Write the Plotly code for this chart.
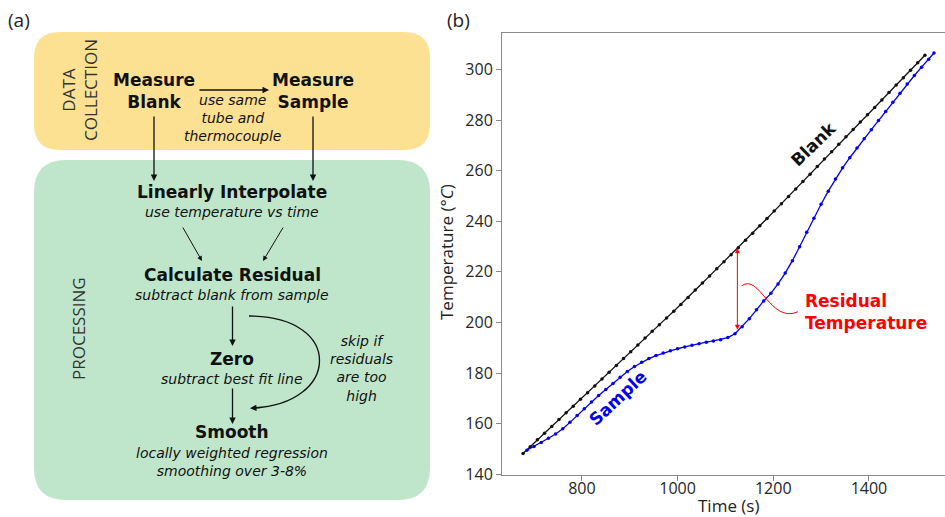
import plotly.graph_objects as go

W, H = 945, 517

# ---------------- data ----------------
blank_time = [677, 692, 707, 722, 737, 752, 767, 782, 797, 812, 827, 842, 857, 872, 887,
              902, 917, 932, 947, 962, 977, 992, 1007, 1022, 1037, 1052, 1067, 1082, 1097,
              1112, 1127, 1142, 1157, 1172, 1187, 1202, 1217, 1232, 1247, 1262, 1277, 1292,
              1307, 1322, 1337, 1352, 1367, 1382, 1397, 1412, 1427, 1442, 1457, 1472, 1487,
              1502, 1517]
blank_temp = [148.2, 150.9, 153.6, 156.2, 158.9, 161.6, 164.3, 166.9, 169.6, 172.2, 174.9,
              177.6, 180.3, 183.0, 185.7, 188.4, 191.1, 193.8, 196.5, 199.1, 201.8, 204.4,
              207.1, 209.9, 212.8, 215.6, 218.4, 221.2, 224.0, 226.8, 229.5, 232.5, 235.3,
              238.2, 241.1, 244.0, 246.9, 249.8, 252.7, 255.7, 258.6, 261.6, 264.6, 267.5,
              270.4, 273.4, 276.3, 279.2, 282.1, 285.0, 287.9, 290.9, 293.8, 296.7, 299.7,
              302.6, 305.6]

sample_time = [685, 700, 715, 730, 745, 760, 775, 790, 805, 820, 835, 850, 865, 880, 895,
               910, 925, 940, 955, 970, 985, 1000, 1015, 1030, 1045, 1060, 1075, 1090, 1105,
               1120, 1135, 1150, 1165, 1180, 1195, 1210, 1225, 1240, 1255, 1270, 1285, 1300,
               1315, 1330, 1345, 1360, 1375, 1390, 1405, 1420, 1435, 1450, 1465, 1480, 1495,
               1510, 1525, 1536]
sample_temp = [149.5, 151.0, 152.5, 154.2, 155.9, 158.0, 160.5, 163.2, 165.9, 168.6, 171.1,
               173.5, 175.9, 178.3, 180.6, 182.6, 184.3, 185.7, 186.9, 187.9, 188.8, 189.6,
               190.3, 191.0, 191.6, 192.2, 192.7, 193.2, 194.0, 195.5, 198.3, 201.5, 205.0,
               208.5, 211.5, 215.2, 219.5, 224.4, 229.9, 235.6, 241.2, 246.7, 251.9, 256.7,
               261.1, 265.1, 268.9, 272.6, 276.2, 279.8, 283.4, 287.0, 290.6, 294.2, 297.6,
               300.9, 304.0, 306.5]

x_ticks = [800, 1000, 1200, 1400]
y_ticks = [140, 160, 180, 200, 220, 240, 260, 280, 300]

resid_time = 1125
resid_top = 229.3
resid_bottom = 196.5

# ---------------- helpers ----------------
def fx(x):
    return x / W


def fy(y):
    return 1 - y / H


def rrect(x0, y0, x1, y1, r):
    pts = [
        ("M", [(x0 + r, y0)]), ("L", [(x1 - r, y0)]), ("Q", [(x1, y0), (x1, y0 + r)]),
        ("L", [(x1, y1 - r)]), ("Q", [(x1, y1), (x1 - r, y1)]), ("L", [(x0 + r, y1)]),
        ("Q", [(x0, y1), (x0, y1 - r)]), ("L", [(x0, y0 + r)]), ("Q", [(x0, y0), (x0 + r, y0)]),
    ]
    s = ""
    for cmd, ps in pts:
        s += cmd + " " + " ".join(f"{fx(a):.5f},{fy(b):.5f}" for a, b in ps) + " "
    return s + "Z"


FLOW_FONT = "DejaVu Sans"
LABEL_FONT = "Open Sans"

annotations = []
shapes = []


def text(x, y, t, size=17, family=FLOW_FONT, color="#111111", angle=0, xanchor="center", align="center"):
    annotations.append(dict(
        x=fx(x), y=fy(y), xref="paper", yref="paper", text=t, showarrow=False,
        font=dict(family=family, size=size, color=color), textangle=angle,
        xanchor=xanchor, yanchor="middle", align=align))


def arrow(x0, y0, x1, y1, width=1.3, size=1.0):
    annotations.append(dict(
        x=fx(x1), y=fy(y1), xref="paper", yref="paper", ax=x0 - x1, ay=y0 - y1,
        axref="pixel", ayref="pixel", text="", showarrow=True, arrowhead=2,
        arrowsize=size, arrowwidth=width, arrowcolor="#111111", standoff=0))


# ---------------- panel (a): flowchart ----------------
shapes.append(dict(type="path", xref="paper", yref="paper", path=rrect(34, 32, 430, 150, 26),
                   fillcolor="#FDE193", line=dict(width=0), layer="below"))
shapes.append(dict(type="path", xref="paper", yref="paper", path=rrect(34, 160, 430, 500, 32),
                   fillcolor="#BFE6CB", line=dict(width=0), layer="below"))

text(19, 20, "(a)", size=19, family=LABEL_FONT, color="#222222")
text(458, 20, "(b)", size=19, family=LABEL_FONT, color="#222222")

text(79, 90, "DATA<br>COLLECTION", size=17, family=LABEL_FONT, color="#333333", angle=-90)
text(78, 329, "PROCESSING", size=17, family=LABEL_FONT, color="#333333", angle=-90)

text(154, 91, "<b>Measure<br>Blank</b>")
text(313, 91, "<b>Measure<br>Sample</b>")
arrow(198, 90, 269, 90)
text(232, 118, "<i>use same<br>tube and<br>thermocouple</i>", size=14)

arrow(154, 115, 154, 181)
arrow(313, 115, 313, 181)

text(232, 192, "<b>Linearly Interpolate</b>")
text(232, 212, "<i>use temperature vs time</i>", size=14)
arrow(182, 226, 202, 261, width=1.0)
arrow(284, 226, 263, 261, width=1.0)

text(232, 275, "<b>Calculate Residual</b>")
text(232, 295, "<i>subtract blank from sample</i>", size=14)
arrow(232.5, 305, 232.5, 346)

text(232, 359, "<b>Zero</b>")
text(232, 379, "<i>subtract best fit line</i>", size=14)
arrow(232.5, 387, 232.5, 424)

text(232, 432, "<b>Smooth</b>")
text(232, 461.5, "<i>locally weighted regression<br>smoothing over 3-8%</i>", size=14)

text(361, 368, "<i>skip if<br>residuals<br>are too<br>high</i>", size=14)

# curved skip arrow
cp = [(249, 316), (345, 316), (340, 405), (252, 408)]
shapes.append(dict(type="path", xref="paper", yref="paper",
                   path=f"M {fx(cp[0][0])},{fy(cp[0][1])} C {fx(cp[1][0])},{fy(cp[1][1])} "
                        f"{fx(cp[2][0])},{fy(cp[2][1])} {fx(cp[3][0])},{fy(cp[3][1])}",
                   line=dict(color="#111111", width=1.3)))
arrow(262, 407.6, 250, 408.2)

# ---------------- panel (b): chart ----------------
fig = go.Figure()
fig.add_trace(go.Scatter(x=blank_time, y=blank_temp, mode="lines+markers",
                         line=dict(color="#111111", width=1.3),
                         marker=dict(color="#111111", size=3.5), showlegend=False,
                         xaxis="x", yaxis="y"))
fig.add_trace(go.Scatter(x=sample_time, y=sample_temp, mode="lines+markers",
                         line=dict(color="#0000EE", width=1.3),
                         marker=dict(color="#0000EE", size=3.5), showlegend=False,
                         xaxis="x", yaxis="y"))

# residual double arrow
annotations.append(dict(x=resid_time, y=resid_top, ax=resid_time, ay=resid_bottom,
                        xref="x", yref="y", axref="x", ayref="y", text="", showarrow=True,
                        arrowhead=2, startarrowhead=2, arrowside="end+start", arrowsize=1,
                        startarrowsize=1, arrowwidth=1, arrowcolor="#FF0000",
                        standoff=0, startstandoff=0))
# S-curve connector (data coords)
sc = [(1134, 214.5), (1172, 219.5), (1193, 199.4), (1251.6, 204.2)]
shapes.append(dict(type="path", xref="x", yref="y",
                   path=f"M {sc[0][0]},{sc[0][1]} C {sc[1][0]},{sc[1][1]} {sc[2][0]},{sc[2][1]} {sc[3][0]},{sc[3][1]}",
                   line=dict(color="#FF0000", width=1)))

annotations.append(dict(x=1261.6, y=204.1, xref="x", yref="y", xanchor="left", yanchor="middle",
                        align="left", text="<b>Residual<br>Temperature</b>", showarrow=False,
                        font=dict(family=FLOW_FONT, size=17, color="#FF0000")))
annotations.append(dict(x=1283.6, y=270.6, xref="x", yref="y", text="<b>Blank</b>",
                        showarrow=False, textangle=-44,
                        font=dict(family=FLOW_FONT, size=17, color="#111111")))
annotations.append(dict(x=874.8, y=170.3, xref="x", yref="y", text="<b>Sample</b>",
                        showarrow=False, textangle=-43,
                        font=dict(family=FLOW_FONT, size=17, color="#0000EE")))

# axis titles
text(728, 505, "Time (s)", size=17, family=LABEL_FONT, color="#222222")
text(446, 252, "Temperature (°<i>C</i>)", size=17, family=LABEL_FONT, color="#222222", angle=-90)

fig.update_layout(
    width=W, height=H,
    margin=dict(l=0, r=0, t=0, b=0),
    paper_bgcolor="white", plot_bgcolor="white",
    showlegend=False,
    xaxis=dict(domain=[502 / W, 1.0], range=[633, 1559], anchor="y",
               tickvals=x_ticks, ticktext=[str(v) for v in x_ticks],
               showgrid=False, zeroline=False, showline=True, linecolor="#8a8a8a",
               linewidth=1, mirror=True, ticks="outside", ticklen=5, tickcolor="#8a8a8a",
               ticklabelstandoff=-6,
               tickfont=dict(family=LABEL_FONT, size=16, color="#262626"), automargin=False),
    yaxis=dict(domain=[(H - 475) / H, (H - 33) / H], range=[139.7, 314.4], anchor="x",
               tickvals=y_ticks, ticktext=[str(v) for v in y_ticks],
               showgrid=False, zeroline=False, showline=True, linecolor="#8a8a8a",
               linewidth=1, mirror=False, ticks="outside", ticklen=5, tickcolor="#8a8a8a",
               tickfont=dict(family=LABEL_FONT, size=16, color="#262626"), automargin=False),
    annotations=annotations,
    shapes=shapes,
)

fig.write_html("out.html")
